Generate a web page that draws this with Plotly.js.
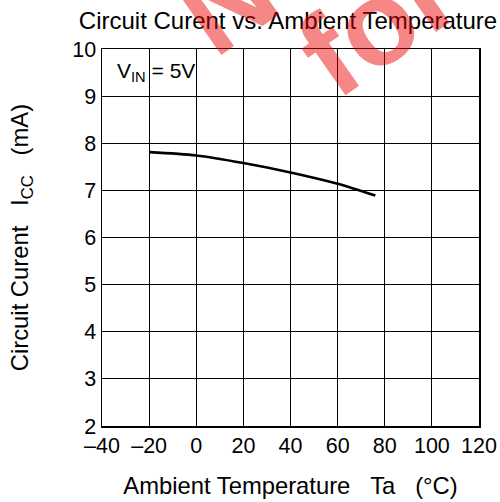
<!DOCTYPE html>
<html>
<head>
<meta charset="utf-8">
<script src="https://cdn.plot.ly/plotly-3.0.1.min.js"></script>
<style>html,body{margin:0;padding:0;background:#fff;}#chart{width:500px;height:502px;}</style>
</head>
<body>
<div id="chart"></div>
<script>
const temperature = [-20, 0, 20, 40, 60, 76];
const circuitCurrent = [7.81, 7.74, 7.58, 7.38, 7.14, 6.89];
const xTickVals = [-40, -20, 0, 20, 40, 60, 80, 100, 120];
const xTickText = ['\u201340', '\u201320', '0', '20', '40', '60', '80', '100', '120'];
const yTickVals = [2, 3, 4, 5, 6, 7, 8, 9, 10];

const F = 'Liberation Sans, Arial, sans-serif';
const sp = '\u00A0\u00A0\u00A0';

const trace = {
  x: temperature, y: circuitCurrent, type: 'scatter', mode: 'lines',
  line: {color: '#000', width: 2.7, shape: 'spline', smoothing: 0.8},
  hoverinfo: 'skip', showlegend: false
};

const px2x = p => (p - 102) / 377;
const px2y = p => (426 - p) / 377;
const wm = {family: F, size: 120, color: 'rgba(235,0,0,0.47)', weight: 'bold'};

const layout = {
  width: 500, height: 502,
  margin: {l: 102, r: 21, t: 49, b: 76, pad: 0},
  paper_bgcolor: '#fff', plot_bgcolor: '#fff',
  font: {family: F, color: '#000', size: 21},
  title: {text: 'Circuit Curent vs. Ambient Temperature', font: {family: F, size: 24, color: '#000'},
          x: 0.576, xanchor: 'center', y: 0.959, yanchor: 'middle', xref: 'container', yref: 'container'},
  xaxis: {
    range: [-40, 120], tickmode: 'array', tickvals: xTickVals, ticktext: xTickText,
    showgrid: true, gridcolor: '#000', gridwidth: 1,
    showline: true, linecolor: '#000', linewidth: 1.5, mirror: true,
    ticks: '', tickfont: {family: F, size: 21.5, color: '#000'},
    zeroline: false, automargin: false,
    title: {text: 'Ambient Temperature' + sp + 'Ta' + sp + '(\u00B0C)', font: {family: F, size: 23.8, color: '#000'}, standoff: 20}
  },
  yaxis: {
    range: [2, 10], tickmode: 'array', tickvals: yTickVals,
    showgrid: true, gridcolor: '#000', gridwidth: 1,
    showline: true, linecolor: '#000', linewidth: 1.5, mirror: true,
    ticks: '', ticklen: 0, tickfont: {family: F, size: 21.5, color: '#000'},
    zeroline: false, automargin: false,
    title: {text: 'Circuit Curent' + sp + 'I<sub>CC</sub>' + sp + '(mA)', font: {family: F, size: 23.8, color: '#000'}, standoff: 37}
  },
  annotations: [
    {text: 'V<sub>IN</sub> = 5V', xref: 'paper', yref: 'paper', x: px2x(115), y: px2y(72),
     xanchor: 'left', yanchor: 'middle', showarrow: false, font: {family: F, size: 21, color: '#000'}},
    {text: 'Not Recommended', xref: 'paper', yref: 'paper', x: px2x(638), y: px2y(-288),
     xanchor: 'center', yanchor: 'middle', showarrow: false, textangle: -35, font: wm},
    {text: 'for New Design', xref: 'paper', yref: 'paper', x: px2x(670), y: px2y(-182),
     xanchor: 'center', yanchor: 'middle', showarrow: false, textangle: -35, font: wm}
  ]
};

Plotly.newPlot('chart', [trace], layout, {displayModeBar: false, staticPlot: true});
</script>
</body>
</html>
